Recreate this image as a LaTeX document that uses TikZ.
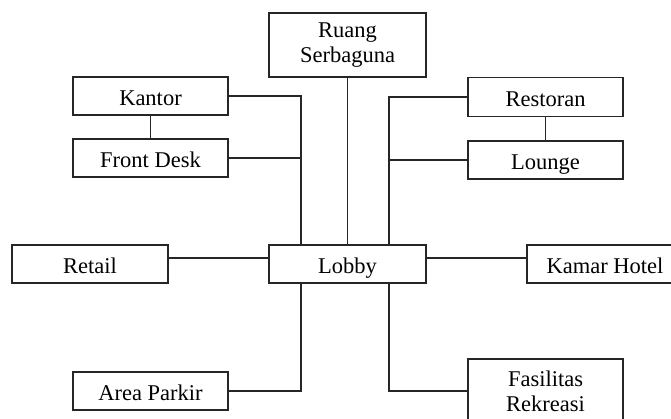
\documentclass[tikz,border=0pt]{standalone}
\usepackage{fontspec}
\setmainfont{Liberation Serif}
\begin{document}
\begin{tikzpicture}[x=1pt,y=-1pt,
  room/.style={draw=black!85, line width=1.1pt, fill=white, inner sep=0pt,
    minimum width=155pt, minimum height=38pt, align=center,
    font=\fontsize{22.5}{25}\selectfont},
  oneline/.style={room, text height=19pt, text depth=0pt},
  link/.style={draw=black!85, line width=1.1pt}]
\useasboundingbox (0,0) rectangle (671,419);
\clip (0,0) rectangle (671,419);
\fill[white] (0,0) rectangle (671,419);

% rooms
\node[room, minimum height=64pt, minimum width=157pt] (ruang) at (347.5,45) {Ruang\\Serbaguna};
\node[oneline] (kantor) at (150.5,96) {Kantor};
\node[oneline] (front) at (150.5,158) {Front Desk};
\node[oneline, minimum height=39pt] (restoran) at (545.5,97) {Restoran};
\node[oneline] (lounge) at (545.5,160) {Lounge};
\node[oneline, minimum width=157pt] (lobby) at (347.5,264) {Lobby};
\node[oneline, minimum width=156pt] (retail) at (90,264) {Retail};
\node[oneline, minimum width=156pt] (kamar) at (605,264) {Kamar Hotel};
\node[oneline] (parkir) at (150.5,391) {Area Parkir};
\node[room, minimum height=64pt] (fasilitas) at (545.5,391) {Fasilitas\\Rekreasi};

% bus lines feeding the lobby
\coordinate (busL) at (301,0);
\coordinate (busR) at (389,0);
\coordinate (busY) at (0,258);

% connectors
\draw[link] (kantor.south) -- (front.north);
\draw[link] (restoran.south) -- (lounge.north);
\draw[link] (kantor.east) -| (busL |- lobby.north);
\draw[link] (front.east) -- (busL |- front.east);
\draw[link] (ruang.south) -- (lobby.north);
\draw[link] (restoran.west) -| (busR |- lobby.north);
\draw[link] (lounge.west) -- (busR |- lounge.west);
\draw[link] (retail.east |- busY) -- (lobby.west |- busY);
\draw[link] (lobby.east |- busY) -- (kamar.west |- busY);
\draw[link] (busL |- lobby.south) |- (parkir.east);
\draw[link] (busR |- lobby.south) |- (fasilitas.west);
\end{tikzpicture}
\end{document}
